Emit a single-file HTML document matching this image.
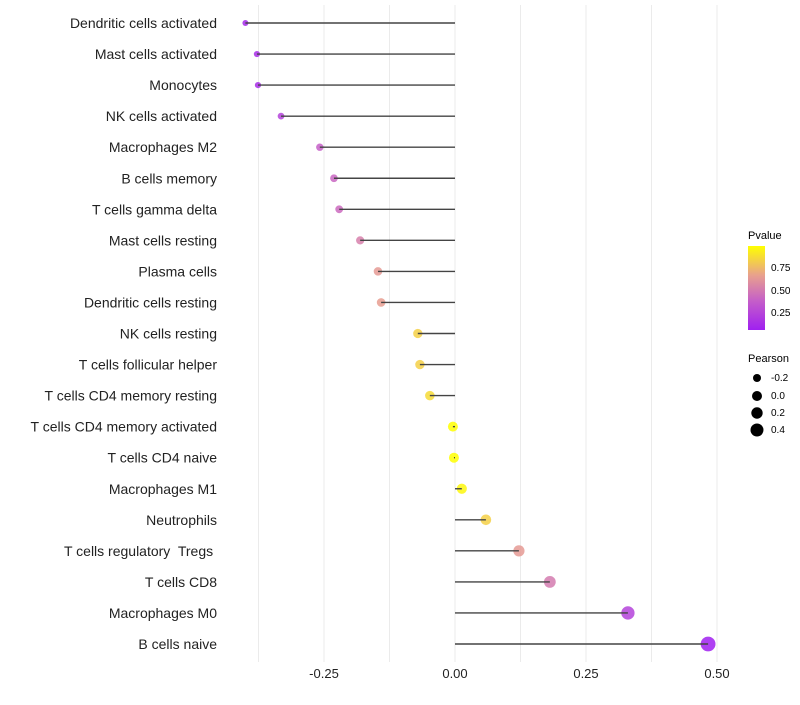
<!DOCTYPE html>
<html><head><meta charset="utf-8"><style>
body{margin:0;background:#fff;font-family:"Liberation Sans",sans-serif}
text{white-space:pre}
</style></head><body>
<svg id="chart" width="800" height="700" xmlns="http://www.w3.org/2000/svg" font-family="Liberation Sans, sans-serif">
<defs><linearGradient id="pg" x1="0" y1="1" x2="0" y2="0">
<stop offset="0" stop-color="#a020f0"/><stop offset="0.35" stop-color="#c55fc8"/><stop offset="0.65" stop-color="#e8a08e"/><stop offset="1" stop-color="#ffff00"/>
</linearGradient></defs>
<g id="grid"></g><g id="marks"></g><g id="labels"></g>
<g font-size="10">
<text x="748" y="239" font-size="11">Pvalue</text>
<rect x="748" y="246" width="17" height="84" fill="url(#pg)"/>
<text x="771" y="271">0.75</text>
<text x="771" y="294">0.50</text>
<text x="771" y="316">0.25</text>
<text x="748" y="362" font-size="11">Pearson</text>
<circle cx="757" cy="378" r="4"/><text x="771" y="381">-0.2</text>
<circle cx="757" cy="396" r="5"/><text x="771" y="399">0.0</text>
<circle cx="757" cy="413" r="5.7"/><text x="771" y="416">0.2</text>
<circle cx="757" cy="430" r="6.5"/><text x="771" y="433">0.4</text>
</g>
</svg>
<script>
const categories=["Dendritic cells activated","Mast cells activated","Monocytes","NK cells activated","Macrophages M2","B cells memory","T cells gamma delta","Mast cells resting","Plasma cells","Dendritic cells resting","NK cells resting","T cells follicular helper","T cells CD4 memory resting","T cells CD4 memory activated","T cells CD4 naive","Macrophages M1","Neutrophils","T cells regulatory  Tregs ","T cells CD8","Macrophages M0","B cells naive"];
const pearson=[-0.40,-0.378,-0.376,-0.332,-0.258,-0.231,-0.221,-0.181,-0.147,-0.141,-0.071,-0.067,-0.048,-0.004,-0.002,0.013,0.059,0.122,0.181,0.330,0.483];
const pvalue=[0.10,0.12,0.12,0.22,0.35,0.38,0.40,0.50,0.62,0.64,0.82,0.82,0.86,0.99,0.99,0.96,0.82,0.62,0.48,0.22,0.06];
const xTicks=[-0.25,0,0.25,0.5];
const xTickLabels=["-0.25","0.00","0.25","0.50"];
const NS="http://www.w3.org/2000/svg";
const x=v=>455+v*524;
const y=i=>23+i*31.05;
function col(p){
  const stops=[[0.06,[160,32,240]],[0.35,[197,95,200]],[0.65,[232,160,142]],[0.99,[255,255,0]]];
  p=Math.max(0.06,Math.min(0.99,p));
  for(let k=0;k<stops.length-1;k++){const a=stops[k],b=stops[k+1];
    if(p<=b[0]){const t=(p-a[0])/(b[0]-a[0]);return "rgb("+a[1].map((c,j)=>Math.round(c+(b[1][j]-c)*t)).join(",")+")";}}
  return "rgb(255,255,0)";
}
function mk(tag,attrs,parent){const e=document.createElementNS(NS,tag);for(const k in attrs)e.setAttribute(k,attrs[k]);parent.appendChild(e);return e;}
const grid=document.getElementById('grid'),marks=document.getElementById('marks'),labels=document.getElementById('labels');
for(let v=-0.375;v<=0.5001;v+=0.125){
  const g=mk('line',{x1:x(v),x2:x(v),y1:5,y2:662,stroke:'#ebebeb','stroke-width':1},grid);
  
  
}
xTicks.forEach((v,i)=>{
  const t=mk('text',{x:x(v),y:678,'text-anchor':'middle','font-size':13,fill:'#222'},labels);
  t.textContent=xTickLabels[i];
  
  
});
categories.forEach((c,i)=>{
  const t=mk('text',{x:217,y:y(i)+5,'text-anchor':'end','font-size':14,fill:'#222'},labels);
  t.textContent=c;
  
  
  const v=pearson[i];
  const r=Math.max(1.6,5+5*v);
  const dot=mk('circle',{cx:x(v),cy:y(i),r:r,fill:col(pvalue[i]),'fill-opacity':0.85},marks);
  
  
  const ln=mk('line',{x1:x(0),x2:x(v),y1:y(i),y2:y(i),stroke:'#444','stroke-width':1.4},marks);
  
  
});
</script>
</body></html>
